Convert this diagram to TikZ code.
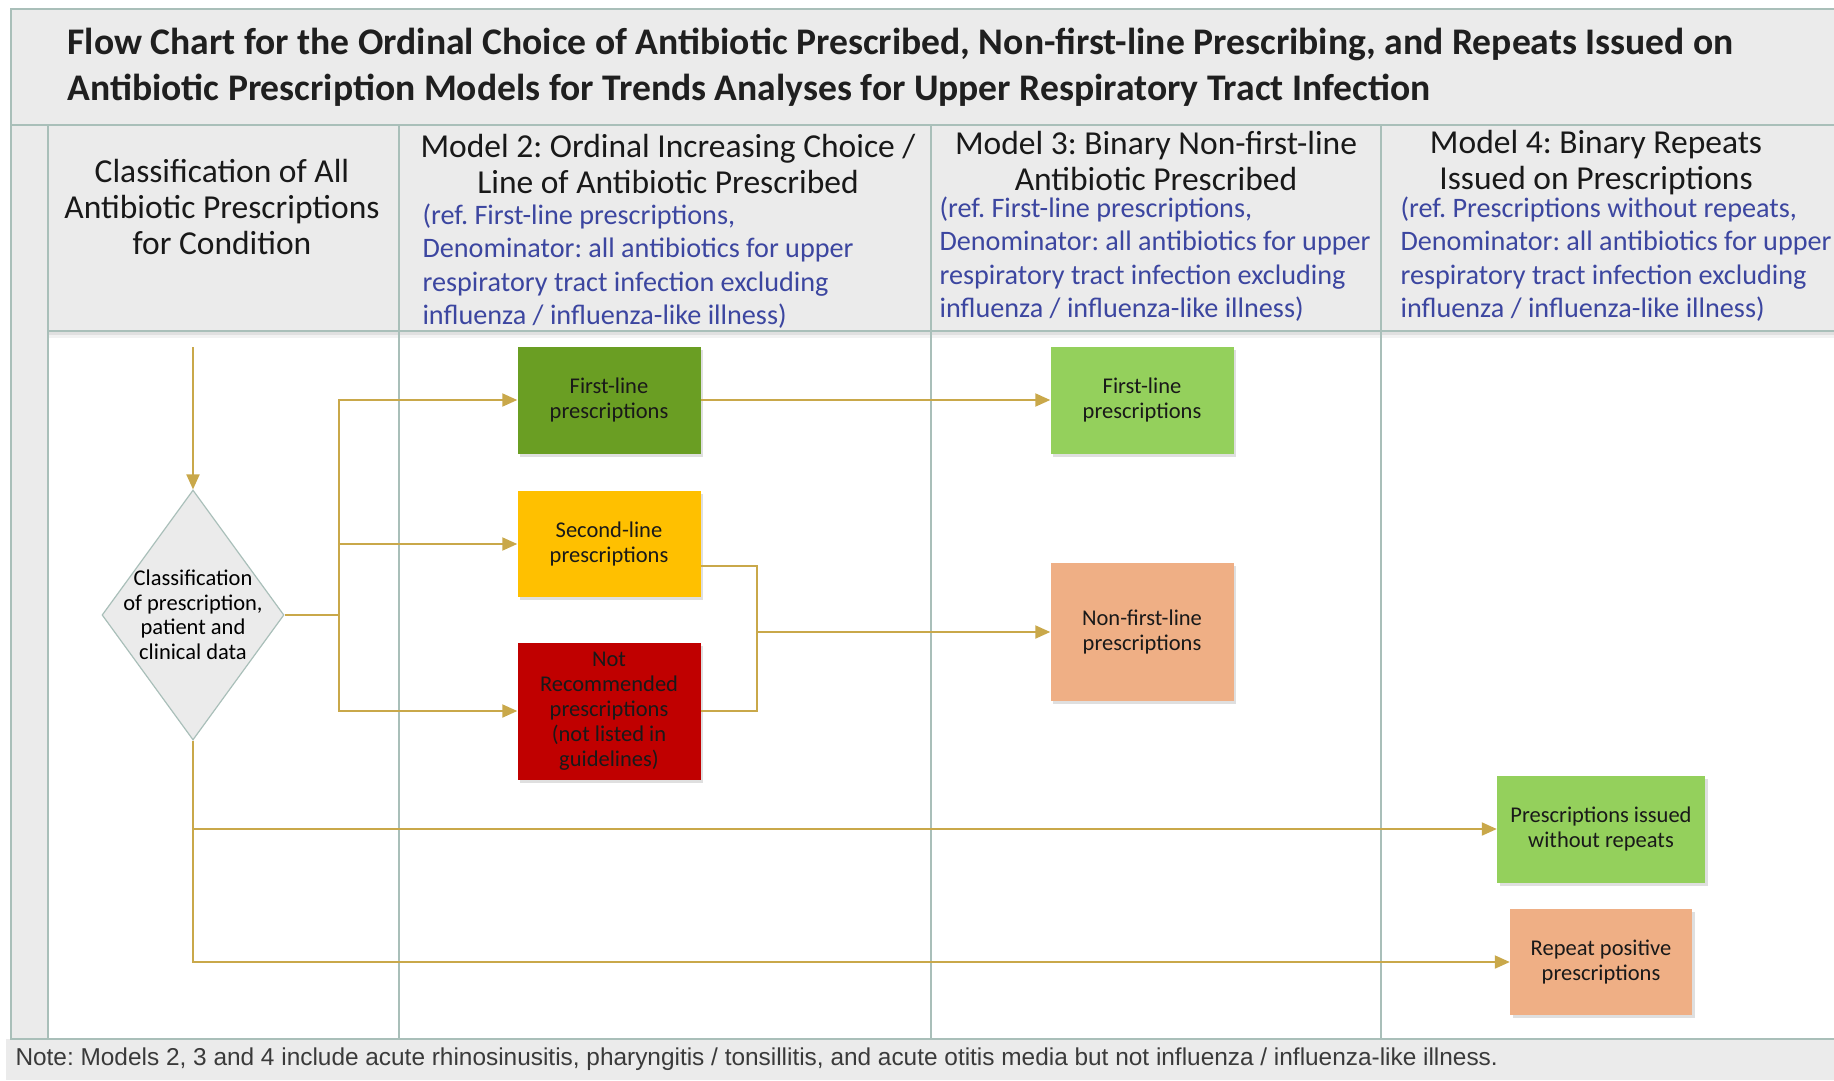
\documentclass[tikz,border=0pt]{standalone}
\usepackage{fontspec}
\setmainfont{Carlito}
\newfontfamily\notefont{Liberation Sans}
\usetikzlibrary{arrows.meta,shapes.geometric,shadows}
\frenchspacing

\definecolor{bandgray}{HTML}{EBEBEB}
\definecolor{gridline}{HTML}{A9BFB9}
\definecolor{conn}{HTML}{C9A84A}
\definecolor{refblue}{HTML}{3C46A0}
\definecolor{darkgreen}{HTML}{6A9E23}
\definecolor{amber}{HTML}{FFC000}
\definecolor{crimson}{HTML}{C00000}
\definecolor{lightgreen}{HTML}{94D05C}
\definecolor{salmon}{HTML}{EFAF85}
\definecolor{notegray}{HTML}{3A3A3A}

\tikzset{
  grid/.style={draw=gridline, line width=1.6pt},
  heading/.style={align=center, text=black!90, font=\fontsize{33.5}{36}\selectfont},
  refnote/.style={align=left, text=refblue, font=\fontsize{28.2}{33.5}\selectfont, anchor=west},
  catbox/.style={rectangle, align=center, inner sep=2pt, text=black!90,
    font=\fontsize{22.5}{25}\selectfont,
    drop shadow={opacity=0.25, shadow xshift=2.5pt, shadow yshift=-3pt}},
  link/.style={draw=conn, line width=2pt},
  arr/.style={link, -{Triangle[length=15pt,width=13pt]}},
}

\begin{document}
\begin{tikzpicture}[x=1pt, y=-1pt]
  \useasboundingbox (0,0) rectangle (1834,1080);

  % bands and lanes
  \fill[bandgray] (11,9) rectangle (1834,331);
  \fill[bandgray] (11,331) rectangle (48,1039);
  \fill[bandgray] (6,1039) rectangle (1834,1080);
  \fill[black!12] (48,331) rectangle (1834,335);
  \fill[black!5] (48,335) rectangle (1834,338);

  \draw[grid] (1834,9) -- (11,9) -- (11,1039) -- (1834,1039);
  \draw[grid] (11,125) -- (1834,125);
  \draw[grid] (48,331) -- (1834,331);
  \draw[grid] (48,125) -- (48,1039);
  \draw[grid] (399,125) -- (399,1039);
  \draw[grid] (931,125) -- (931,1039);
  \draw[grid] (1381,125) -- (1381,1039);

  % title
  \node[anchor=west, align=left, text=black!88,
        font=\bfseries\fontsize{37.6}{46}\selectfont] (title) at (64,67)
    {Flow Chart for the Ordinal Choice of Antibiotic Prescribed, Non-first-line Prescribing, and Repeats Issued on\\
     Antibiotic Prescription Models for Trends Analyses for Upper Respiratory Tract Infection};

  % lane headings
  \node[heading] (h1) at (222,207)
    {Classification of All\\Antibiotic Prescriptions\\for Condition};
  \node[heading] (h2) at (668,164)
    {Model 2: Ordinal Increasing Choice /\\Line of Antibiotic Prescribed};
  \node[refnote] (r2) at (419,266)
    {(ref. First-line prescriptions,\\Denominator: all antibiotics for upper\\respiratory tract infection excluding\\influenza / influenza-like illness)};
  \node[heading] (h3) at (1156,161)
    {Model 3: Binary Non-first-line\\Antibiotic Prescribed};
  \node[refnote] (r3) at (936,259)
    {(ref. First-line prescriptions,\\Denominator: all antibiotics for upper\\respiratory tract infection excluding\\influenza / influenza-like illness)};
  \node[heading] (h4) at (1596,163)
    {Model 4: Binary Repeats\\Issued on Prescriptions};
  \node[refnote] (r4) at (1397,259)
    {(ref. Prescriptions without repeats,\\Denominator: all antibiotics for upper\\respiratory tract infection excluding\\influenza / influenza-like illness)};

  % classification decision
  \node[diamond, fill=bandgray, draw=gridline, line width=1.2pt,
        minimum width=182, minimum height=250, inner sep=0pt] (cls) at (193,615) {};
  \node[align=center, font=\fontsize{22.5}{24.5}\selectfont] (clstext) at (cls)
    {Classification\\of prescription,\\patient and\\clinical data};

  % model 2 categories
  \node[catbox, fill=darkgreen, minimum width=183, minimum height=107] (fl2) at (609,400)
    {First-line\\prescriptions};
  \node[catbox, fill=amber, minimum width=183, minimum height=106] (sl) at (609,544)
    {Second-line\\prescriptions};
  \node[catbox, fill=crimson, minimum width=183, minimum height=137] (nr) at (609,711)
    {Not\\Recommended\\prescriptions\\(not listed in\\guidelines)};

  % model 3 categories
  \node[catbox, fill=lightgreen, minimum width=183, minimum height=107] (fl3) at (1142,400)
    {First-line\\prescriptions};
  \node[catbox, fill=salmon, minimum width=183, minimum height=138] (nf) at (1142,632)
    {Non-first-line\\prescriptions};

  % model 4 categories
  \node[catbox, fill=lightgreen, minimum width=208, minimum height=107] (pw) at (1601,829)
    {Prescriptions issued\\without repeats};
  \node[catbox, fill=salmon, minimum width=182, minimum height=106] (rp) at (1601,962)
    {Repeat positive\\prescriptions};

  % note
  \node[anchor=west, text=notegray, font=\notefont\fontsize{24.4}{28}\selectfont] (note) at (12,1059)
    {Note: Models 2, 3 and 4 include acute rhinosinusitis, pharyngitis / tonsillitis, and acute otitis media but not influenza / influenza-like illness.};

  % connectors
  \coordinate (entry) at (193,347);
  \coordinate (trunk) at (339,615);
  \coordinate (merge) at (757,632);

  \draw[arr] (entry) -- (cls.north);
  \draw[link] (cls.east) -- (trunk);
  \draw[arr] (trunk) |- (fl2.west);
  \draw[arr] (trunk) |- (sl.west);
  \draw[arr] (trunk) |- (nr.west);
  \draw[arr] (fl2.east) -- (fl3.west);
  \draw[link] ([yshift=-22pt]sl.east) -| (merge);
  \draw[link] (nr.east) -| (merge);
  \draw[arr] (merge) -- (nf.west);
  \draw[arr] (cls.south) |- (pw.west);
  \draw[arr] (cls.south) |- (rp.west);
\end{tikzpicture}
\end{document}
